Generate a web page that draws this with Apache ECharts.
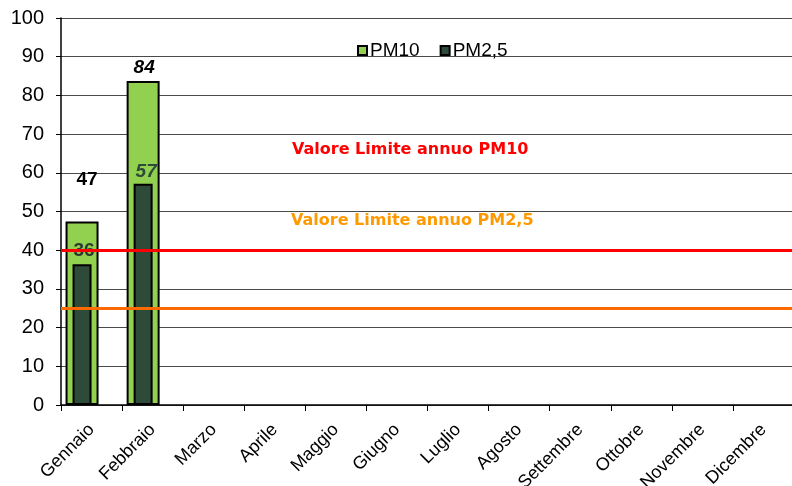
<!DOCTYPE html>
<html><head><meta charset="utf-8">
<script src="https://cdn.jsdelivr.net/npm/echarts@6/dist/echarts.min.js"></script>
<style>html,body{margin:0;padding:0;background:#fff}#c{width:792px;height:486px}</style>
</head><body><div id="c"></div>
<script>
const months = ['Gennaio','Febbraio','Marzo','Aprile','Maggio','Giugno','Luglio','Agosto','Settembre','Ottobre','Novembre','Dicembre'];
const pm10 = [47.4, 83.7, null, null, null, null, null, null, null, null, null, null];
const pm25 = [36.4, 57.2, null, null, null, null, null, null, null, null, null, null];
const limitPM10 = 40;
const limitPM25 = 25;
const limitTextPM10 = 'Valore Limite annuo PM10';
const limitTextPM25 = 'Valore Limite annuo PM2,5';
const yMin = 0, yMax = 100, yStep = 10;

const pm10Labels = [
  {distance: 32, fontStyle: 'normal', color: '#000', offset: [5, 0]},
  {distance: 4, fontStyle: 'italic', color: '#000', offset: [1, 0]}
];
const pm25Labels = [
  {distance: 4, fontStyle: 'normal', color: '#2b3a30', offset: [2, 0]},
  {distance: 2, fontStyle: 'italic', color: '#2e4a38', offset: [3, 0]}
];

function build(vals, lbls) {
  return vals.map((v, i) => {
    if (v === null) return '-';
    const l = lbls[i] || {};
    return {value: v, label: Object.assign({show: true, position: 'top', fontWeight: 'bold', fontSize: 19,
      fontFamily: 'Liberation Sans', formatter: p => Math.round(p.value)}, l)};
  });
}
const empty = months.map(() => '-');

const chart = echarts.init(document.getElementById('c'), null, {renderer: 'canvas'});
chart.setOption({
  animation: false,
  backgroundColor: '#fff',
  textStyle: {fontFamily: 'Liberation Sans'},
  grid: {left: 61, right: -2, top: 18, bottom: 81, containLabel: false, outerBoundsMode: 'none'},
  legend: {
    data: ['PM10', 'PM2,5'], left: 352, top: 36, itemWidth: 9, itemHeight: 9, itemGap: 20,
    textStyle: {fontSize: 19, color: '#000', fontFamily: 'Liberation Sans', padding: [0, 0, 0, -2]},
    icon: 'rect'
  },
  xAxis: [{
    type: 'category', data: months, boundaryGap: true,
    axisLine: {lineStyle: {color: '#000', width: 1.5}},
    axisTick: {show: true, length: 6, lineStyle: {color: '#000'}},
    axisLabel: {rotate: 45, interval: 0, fontSize: 18, color: '#000', margin: 22, fontFamily: 'Liberation Sans', hideOverlap: false},
    splitLine: {show: false}
  }, {
    type: 'category', data: months, show: false
  }],
  yAxis: {
    type: 'value', min: yMin, max: yMax, interval: yStep,
    axisLine: {show: true, lineStyle: {color: '#000', width: 1.5}},
    axisTick: {show: true, length: 5, lineStyle: {color: '#000'}},
    axisLabel: {fontSize: 20, color: '#000', margin: 17, fontFamily: 'Liberation Sans'},
    splitLine: {show: true, lineStyle: {color: '#4a4a4a', width: 1}}
  },
  series: [
    {name: 'PM10', type: 'bar', xAxisIndex: 0, barWidth: 33, barGap: 0, z: 2,
     itemStyle: {color: '#92d050', borderColor: '#000', borderWidth: 2},
     data: build(pm10, pm10Labels)},
    {name: 'pad1', type: 'bar', xAxisIndex: 0, barWidth: 19, barGap: 0, data: empty},
    {name: 'PM2,5', type: 'bar', xAxisIndex: 1, barWidth: 19, barGap: 0, z: 3,
     itemStyle: {color: '#2e4a38', borderColor: '#000', borderWidth: 2},
     data: build(pm25, pm25Labels),
     markLine: {
       silent: true, symbol: ['none', 'none'], label: {show: false}, z: 4,
       data: [
         {yAxis: limitPM10, lineStyle: {color: '#ff0000', width: 3, type: 'solid'}},
         {yAxis: limitPM25, lineStyle: {color: '#ff6a00', width: 3, type: 'solid'}}
       ]
     }},
    {name: 'pad2', type: 'bar', xAxisIndex: 1, barWidth: 19, barGap: 0, data: empty}
  ],
  graphic: [
    {type: 'text', x: 292, y: 150, style: {text: limitTextPM10, fill: '#ff0000', font: 'bold 16px "DejaVu Sans"', textVerticalAlign: 'middle'}},
    {type: 'text', x: 291, y: 221, style: {text: limitTextPM25, fill: '#ff9900', font: 'bold 16px "DejaVu Sans"', textVerticalAlign: 'middle'}}
  ]
});
</script></body></html>
